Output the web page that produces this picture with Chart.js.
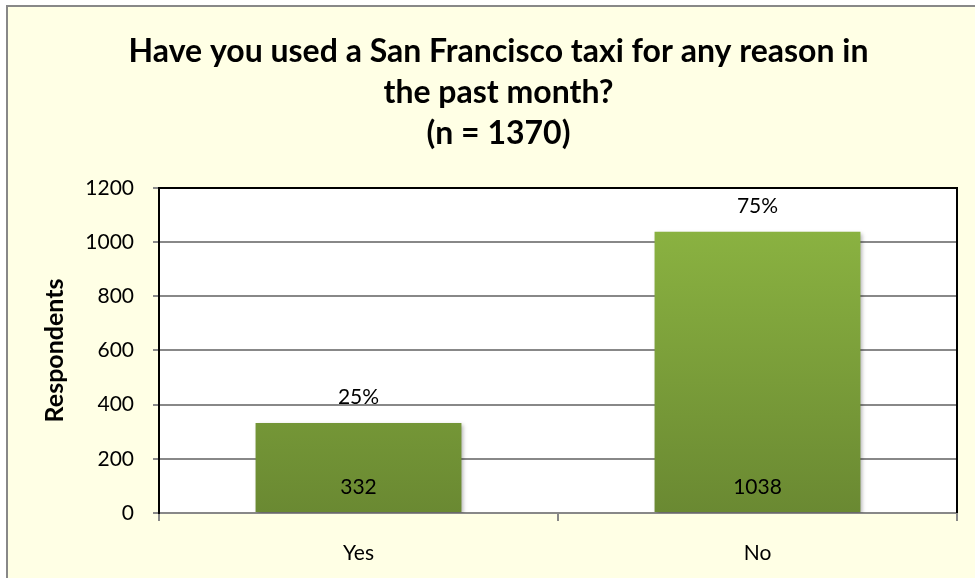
<!DOCTYPE html>
<html>
<head>
<meta charset="utf-8">
<script src="https://cdn.jsdelivr.net/npm/chart.js@4"></script>
<style>
  html, body { margin: 0; padding: 0; background: #fff; }
  #wrap { width: 975px; height: 578px; }
</style>
</head>
<body>
<div id="wrap"><canvas id="chart1" width="975" height="578"></canvas></div>
<script>
// data
const categories = ['Yes', 'No'];
const respondents = [332, 1038];
const pctLabels = ['25%', '75%'];
const yTicks = [0, 200, 400, 600, 800, 1000, 1200];
const titleLines = ['Have you used a San Francisco taxi for any reason in', 'the past month?', '(n = 1370)'];

const FONT = 'Lato, "Noto Sans", sans-serif';

// light yellow frame + white plot area
const framePlugin = {
    id: 'frame',
    beforeDraw(chart) {
        const ctx = chart.ctx;
        const a = chart.chartArea;
        ctx.save();
        ctx.fillStyle = '#ffffe5';
        ctx.fillRect(7, 5, 975, 578);
        ctx.strokeStyle = '#888';
        ctx.lineWidth = 2;
        ctx.beginPath();
        ctx.moveTo(7, 600); ctx.lineTo(7, 6); ctx.lineTo(990, 6);
        ctx.stroke();
        ctx.fillStyle = '#fff';
        ctx.fillRect(a.left, a.top, a.right - a.left, a.bottom - a.top);
        ctx.restore();
    },
    beforeDatasetsDraw(chart) {
        const ctx = chart.ctx;
        ctx.save();
        ctx.shadowColor = 'rgba(0,0,0,0.3)';
        ctx.shadowBlur = 4;
        ctx.shadowOffsetX = 2;
        ctx.shadowOffsetY = 2;
    },
    afterDatasetsDraw(chart) {
        const ctx = chart.ctx;
        ctx.restore();
        const a = chart.chartArea;
        // plot border
        ctx.save();
        ctx.strokeStyle = '#000';
        ctx.lineWidth = 2;
        ctx.beginPath();
        ctx.moveTo(a.left, a.bottom); ctx.lineTo(a.left, a.top);
        ctx.lineTo(a.right, a.top); ctx.lineTo(a.right, a.bottom);
        ctx.stroke();
        // labels on bars
        const meta = chart.getDatasetMeta(0);
        ctx.fillStyle = '#000';
        ctx.font = '21px ' + FONT;
        ctx.textAlign = 'center';
        ctx.textBaseline = 'middle';
        meta.data.forEach((bar, i) => {
            ctx.fillText(String(respondents[i]), bar.x, bar.base - 25);
            ctx.fillText(pctLabels[i], bar.x, bar.y - 26);
        });
        ctx.restore();
    }
};

const ctx = document.getElementById('chart1').getContext('2d');
const chart = new Chart(ctx, {
    type: 'bar',
    data: {
        labels: categories,
        datasets: [{
            data: respondents,
            backgroundColor: (c) => {
                const a = c.chart.chartArea;
                if (!a) return '#7ea03a';
                const g = c.chart.ctx.createLinearGradient(0, a.top, 0, a.bottom);
                g.addColorStop(0, '#8fb843');
                g.addColorStop(1, '#6a8932');
                return g;
            },
            borderWidth: 0,
            categoryPercentage: 1,
            barPercentage: 0.516
        }]
    },
    options: {
        responsive: false,
        animation: false,
        devicePixelRatio: 1,
        layout: { padding: { left: 40, right: 18, top: 0, bottom: 10 } },
        plugins: {
            legend: { display: false },
            tooltip: { enabled: false },
            title: {
                display: true,
                text: titleLines,
                color: '#000',
                font: { family: FONT, size: 32, weight: 'bold', lineHeight: 1.28 },
                padding: { top: 31, bottom: 34 }
            }
        },
        scales: {
            x: {
                grid: { display: true, drawOnChartArea: false, drawTicks: true, tickLength: 8, offset: true, color: '#888', lineWidth: 2 },
                border: { color: '#888', width: 2 },
                ticks: { color: '#000', font: { family: FONT, size: 21 }, padding: 20 },
                afterFit: (s) => { s.height = 55; }
            },
            y: {
                min: 0,
                max: 1200,
                afterBuildTicks: (s) => { s.ticks = yTicks.map(v => ({ value: v })); },
                grid: { color: '#888', lineWidth: 2, tickLength: 6 },
                border: { color: '#000', width: 2 },
                ticks: { color: '#000', font: { family: FONT, size: 21 }, padding: 19, callback: (v) => String(v) },
                title: {
                    display: true,
                    text: 'Respondents',
                    color: '#000',
                    font: { family: FONT, size: 25, weight: 'bold' },
                    padding: { top: 0, bottom: 10 }
                },
                afterFit: (s) => { s.width = 119; }
            }
        }
    },
    plugins: [framePlugin]
});
</script>
</body>
</html>
